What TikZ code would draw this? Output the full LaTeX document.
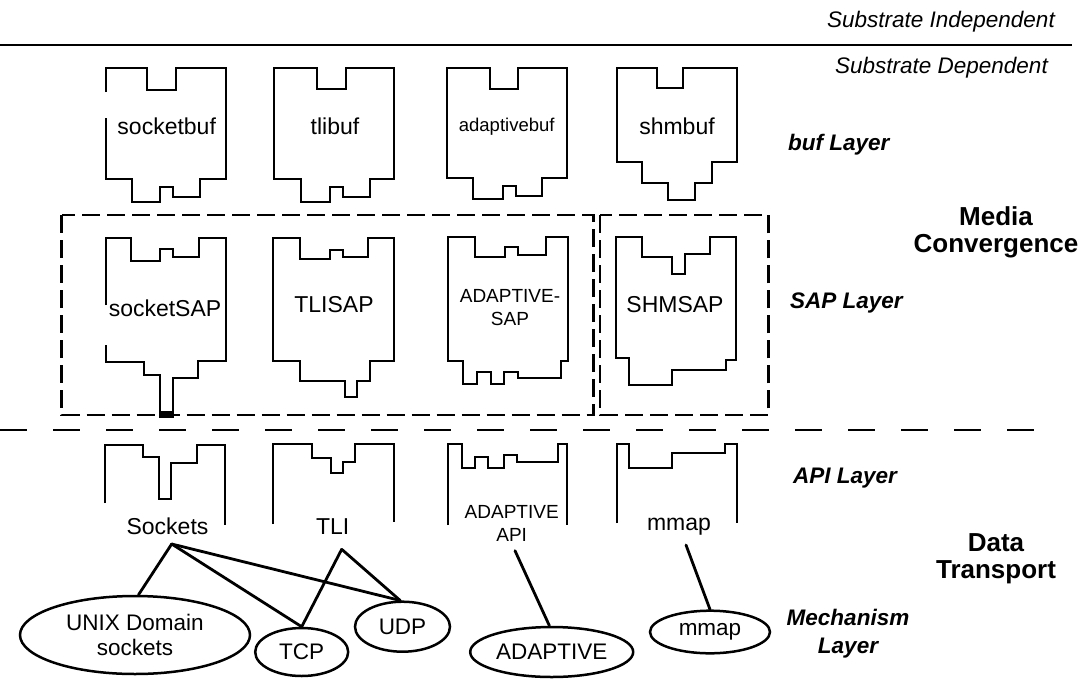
\documentclass[tikz,border=0pt]{standalone}
\usepackage{fontspec}
\setmainfont{Liberation Sans}
\usetikzlibrary{shapes.geometric}
\begin{document}
\begin{tikzpicture}[x=1pt,y=-1pt,
  outline/.style={draw, line width=2pt, line join=miter},
  link/.style={draw, line width=2.8pt, line cap=round},
  mech/.style={draw, ellipse, line width=2.5pt, inner sep=0pt, align=center,
    font=\fontsize{22.5}{25}\selectfont},
  lbl/.style={inner sep=0pt, align=center, font=\fontsize{23}{25}\selectfont},
  small/.style={inner sep=0pt, align=center, font=\fontsize{19}{23}\selectfont},
  layer/.style={inner sep=0pt, align=center, font=\bfseries\itshape\fontsize{22.5}{28}\selectfont},
  group/.style={inner sep=0pt, align=center, font=\bfseries\fontsize{26}{27}\selectfont},
  substrate/.style={inner sep=0pt, anchor=east, font=\itshape\fontsize{22.5}{24}\selectfont},
  sapbox/.style={draw, line width=2.5pt, dash pattern=on 18pt off 7pt},
  sep/.style={draw, line width=2.5pt, dash pattern=on 27pt off 26pt},
]
\fill[white] (0,0) rectangle (1085,681);
\useasboundingbox (0,0) rectangle (1085,681);

% substrate split
\draw[line width=2pt] (0,45) -- (1072,45);
\node[substrate] (indep) at (1055,22) {Substrate Independent};
\node[substrate] (dep) at (1048,68) {Substrate Dependent};

% ---------------- buf layer ----------------
\draw[outline] (106,92) -- (106,68.3) -- (146.7,68.3) -- (146.7,90) -- (176,90) -- (176,68.3)
  -- (226,68.3) -- (226,179.3) -- (200,179.3) -- (200,196.7) -- (172.7,196.7) -- (172.7,187.3)
  -- (160,187.3) -- (160,201.7) -- (131.7,201.7) -- (131.7,179.3) -- (106,179.3) -- (106,118);
\node[lbl] (socketbuf) at (166.7,126.7) {socketbuf};

\draw[outline] (274,67.7) -- (316.7,67.7) -- (316.7,89.3) -- (346,89.3) -- (346,67.7)
  -- (394.3,67.7) -- (394.3,179.3) -- (370,179.3) -- (370,196.7) -- (343.3,196.7) -- (343.3,186.7)
  -- (330,186.7) -- (330,201.7) -- (300.7,201.7) -- (300.7,179.3) -- (274,179.3) -- cycle;
\node[lbl] (tlibuf) at (335,126.7) {tlibuf};

\draw[outline] (446.7,67.7) -- (490,67.7) -- (490,89) -- (518.3,89) -- (518.3,67.7)
  -- (566.7,67.7) -- (566.7,177.7) -- (541.7,177.7) -- (541.7,195.7) -- (516,195.7) -- (516,185.7)
  -- (503.3,185.7) -- (503.3,199.3) -- (473.3,199.3) -- (473.3,177.7) -- (446.7,177.7) -- cycle;
\node[inner sep=0pt, font=\fontsize{18.5}{22}\selectfont] (adaptivebuf) at (506.7,126.7) {adaptivebuf};

\draw[outline] (617,67.7) -- (657,67.7) -- (657,88.3) -- (683,88.3) -- (683,67.7)
  -- (737,67.7) -- (737,161.7) -- (712,161.7) -- (712,183.3) -- (695,183.3) -- (695,200)
  -- (668.3,200) -- (668.3,183.3) -- (641.7,183.3) -- (641.7,161.7) -- (617,161.7) -- cycle;
\node[lbl] (shmbuf) at (677,126.7) {shmbuf};

% ---------------- SAP layer ----------------
\draw[sapbox] (61.7,215) rectangle (593.3,415);
\draw[sapbox] (600,215) rectangle (768.3,415);

\draw[outline] (106,305) -- (106,238.3) -- (131,238.3) -- (131,260.7) -- (160,260.7) -- (160,249.3)
  -- (172.7,249.3) -- (172.7,257.3) -- (199.3,257.3) -- (199.3,238.3) -- (226,238.3) -- (226,361)
  -- (197.7,361) -- (197.7,378.3) -- (172.7,378.3) -- (172.7,415) -- (160,415) -- (160,375)
  -- (144.3,375) -- (144.3,361.7) -- (106,361.7) -- (106,345);
\fill (159,410.5) rectangle (173.7,417.5);
\node[lbl] (socketSAP) at (165,308.3) {socketSAP};

\draw[outline] (273.3,238.3) -- (300,238.3) -- (300,259.3) -- (330,259.3) -- (330,250)
  -- (343,250) -- (343,257.3) -- (368,257.3) -- (368,238.3) -- (394,238.3) -- (394,361)
  -- (370,361) -- (370,381) -- (357,381) -- (357,397) -- (345,397) -- (345,381)
  -- (300,381) -- (300,361) -- (273.3,361) -- cycle;
\node[lbl] (tlisap) at (334,305) {TLISAP};

\draw[outline] (448.3,236.7) -- (475,236.7) -- (475,257.3) -- (505,257.3) -- (505,247.3)
  -- (518.3,247.3) -- (518.3,255) -- (546,255) -- (546,236.7) -- (568.3,236.7) -- (568.3,360.7)
  -- (561,360.7) -- (561,378.3) -- (518.3,378.3) -- (518.3,371.7) -- (504,371.7) -- (504,384)
  -- (490.7,384) -- (490.7,371.7) -- (476.7,371.7) -- (476.7,384) -- (462.7,384) -- (462.7,360.7)
  -- (448.3,360.7) -- cycle;
\node[small] (adaptivesap) at (510,308) {ADAPTIVE-\\SAP};

\draw[outline] (616,236.7) -- (641.7,236.7) -- (641.7,256.7) -- (671.7,256.7) -- (671.7,274)
  -- (685,274) -- (685,254) -- (710,254) -- (710,236.7) -- (736,236.7) -- (736,360)
  -- (726,360) -- (726,370) -- (671.7,370) -- (671.7,385) -- (629.3,385) -- (629.3,358.3)
  -- (616,358.3) -- cycle;
\node[lbl] (shmsap) at (675,305) {SHMSAP};

% SAP / API boundary
\draw[sep] (0,430) -- (1050,430);

% ---------------- API layer ----------------
\draw[outline] (105,503) -- (105,445) -- (143.3,445) -- (143.3,457.3) -- (159,457.3) -- (159,499)
  -- (170.7,499) -- (170.7,463.3) -- (196.7,463.3) -- (196.7,445) -- (225,445) -- (225,525);
\node[lbl] (sockets) at (167.5,526.7) {Sockets};

\draw[outline] (273.3,524) -- (273.3,444) -- (312.3,444) -- (312.3,457.7) -- (330.7,457.7)
  -- (330.7,473.3) -- (343.3,473.3) -- (343.3,462.3) -- (355,462.3) -- (355,444) -- (394,444)
  -- (394,522);
\node[lbl] (tli) at (332.7,527) {TLI};

\draw[outline] (448.3,525) -- (448.3,444) -- (461.7,444) -- (461.7,468.3) -- (475,468.3)
  -- (475,456.7) -- (488.3,456.7) -- (488.3,468.3) -- (504,468.3) -- (504,455) -- (517.3,455)
  -- (517.3,461.7) -- (558.3,461.7) -- (558.3,444) -- (567.3,444) -- (567.3,525);
\node[small] (adaptiveapi) at (511.7,523) {ADAPTIVE\\API};

\draw[outline] (616.7,523) -- (616.7,444) -- (629.3,444) -- (629.3,468.3) -- (671.7,468.3)
  -- (671.7,453.3) -- (725,453.3) -- (725,444) -- (737,444) -- (737,523);
\node[lbl] (mmapapi) at (679,527) {mmap};

% ---------------- mechanism layer ----------------
\node[mech, minimum width=230pt, minimum height=78pt] (unix) at (135,635) {UNIX Domain\\sockets};
\node[mech, minimum width=93pt, minimum height=48pt] (tcp) at (301.7,652) {TCP};
\node[mech, minimum width=95pt, minimum height=50pt] (udp) at (402.5,626.7) {UDP};
\node[mech, minimum width=163pt, minimum height=50pt] (adaptive) at (551.7,652) {ADAPTIVE};
\node[mech, minimum width=120pt, minimum height=42.6pt] (mmapmech) at (710,632) {mmap};

\coordinate (skfan) at (171.7,544);
\coordinate (tlifan) at (341.7,549.3);
\coordinate (adfan) at (515,550.7);
\coordinate (mmfan) at (686,545);

\draw[link] (skfan) -- (unix.85);
\draw[link] (skfan) -- (tcp.north);
\draw[link] (skfan) -- (udp.95);
\draw[link] (tlifan) -- (tcp.north);
\draw[link] (tlifan) -- (udp.95);
\draw[link] (adfan) -- (adaptive.95);
\draw[link] (mmfan) -- (mmapmech.north);

% ---------------- layer captions ----------------
\node[layer, anchor=west] (buflayer) at (788,145) {buf Layer};
\node[layer, anchor=west] (saplayer) at (790,303.3) {SAP Layer};
\node[layer, anchor=west] (apilayer) at (793,478.3) {API Layer};
\node[layer] (mechlayer) at (848,634) {Mechanism\\Layer};

\node[group] (media) at (996,232) {Media\\Convergence};
\node[group] (transport) at (996,559) {Data\\Transport};
\end{tikzpicture}
\end{document}
